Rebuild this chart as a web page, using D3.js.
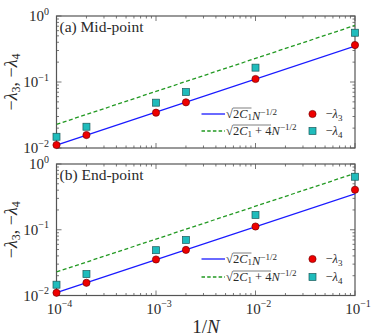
<!DOCTYPE html>
<html>
<head>
<meta charset="utf-8">
<script src="https://cdn.jsdelivr.net/npm/d3@7"></script>
<style>
  body { margin: 0; background: #fff; }
  svg { display: block; }
  text { font-family: "Liberation Serif", "DejaVu Serif", serif; fill: #2a2a2a; }
</style>
</head>
<body>
<svg id="chart" width="374" height="336"></svg>
<script>
// 1/N values of the simulations
var invN = [1e-4, 2e-4, 1e-3, 2e-3, 1e-2, 1e-1];

// (a) mid-point
var midLam3 = [0.0111, 0.0157, 0.0343, 0.0492, 0.111, 0.363];
var midLam4 = [0.0148, 0.0210, 0.0486, 0.0705, 0.165, 0.558];
// (b) end-point
var endLam3 = [0.0110, 0.0156, 0.0353, 0.0494, 0.112, 0.406];
var endLam4 = [0.0146, 0.0212, 0.0489, 0.0700, 0.168, 0.640];

// fitted lines, read at the ends of the x range
var fitX = [1e-4, 1e-1];
var fitSqrt2C1 = [0.0111, 0.351];
var fitSqrt2C1p4 = [0.0228, 0.720];

var xTickVals = [1e-4, 1e-3, 1e-2, 1e-1];
var xTickExp = ["\u22124", "\u22123", "\u22122", "\u22121"];
var yTickVals = [1e-2, 1e-1, 1];
var yTickExp = ["\u22122", "\u22121", "0"];

var panels = [
  {label: "(a) Mid-point", l3: midLam3, l4: midLam4, top: 16, bottom: 148, legY: [114, 131]},
  {label: "(b) End-point", l3: endLam3, l4: endLam4, top: 164, bottom: 295.5, legY: [259, 277]}
];

var svg = d3.select("#chart");
var left = 56.5, right = 355;

var x = d3.scaleLog().domain([1e-4, 1e-1]).range([left, right]);
var frameClr = "#555";

panels.forEach(function(p, pi) {
  var y = d3.scaleLog().domain([1e-2, 1]).range([p.bottom, p.top]);
  var g = svg.append("g");

  // ticks, all pointing inward
  var xt = x.ticks();
  var yt = y.ticks();
  function isMajor(v) { return Math.abs(Math.log10(v) - Math.round(Math.log10(v))) < 1e-6; }

  xt.forEach(function(v) {
    var len = isMajor(v) ? 5 : 2.5;
    g.append("line").attr("x1", x(v)).attr("x2", x(v)).attr("y1", p.bottom).attr("y2", p.bottom - len)
      .attr("stroke", frameClr).attr("stroke-width", 0.8);
    g.append("line").attr("x1", x(v)).attr("x2", x(v)).attr("y1", p.top).attr("y2", p.top + len)
      .attr("stroke", frameClr).attr("stroke-width", 0.8);
  });
  yt.forEach(function(v) {
    var len = isMajor(v) ? 5 : 2.5;
    g.append("line").attr("y1", y(v)).attr("y2", y(v)).attr("x1", left).attr("x2", left + len)
      .attr("stroke", frameClr).attr("stroke-width", 0.8);
    g.append("line").attr("y1", y(v)).attr("y2", y(v)).attr("x1", right).attr("x2", right - len)
      .attr("stroke", frameClr).attr("stroke-width", 0.8);
  });

  g.append("rect").attr("x", left).attr("y", p.top).attr("width", right - left).attr("height", p.bottom - p.top)
    .attr("fill", "none").attr("stroke", frameClr).attr("stroke-width", 1.2);

  // y tick labels
  yTickVals.forEach(function(v, i) {
    var t = g.append("text").attr("x", 49).attr("y", y(v) + 5).attr("text-anchor", "end")
      .style("font-size", "15px");
    t.append("tspan").text("10");
    t.append("tspan").attr("dy", -6.5).style("font-size", "10px").text(yTickExp[i]);
  });

  // x tick labels only on the lower panel
  if (pi === 1) {
    xTickVals.forEach(function(v, i) {
      var t = g.append("text").attr("x", x(v) + 3).attr("y", 313.5).attr("text-anchor", "middle")
        .style("font-size", "15px");
      t.append("tspan").text("10");
      t.append("tspan").attr("dy", -6.5).style("font-size", "10px").text(xTickExp[i]);
    });
    var xl = g.append("text").attr("x", 206).attr("y", 333).attr("text-anchor", "middle")
      .style("font-size", "19px");
    xl.append("tspan").text("1/");
    xl.append("tspan").style("font-style", "italic").text("N");
  }

  // y label
  var yl = g.append("text")
    .attr("transform", "translate(17," + ((p.top + p.bottom) / 2) + ") rotate(-90)")
    .attr("text-anchor", "middle").style("font-size", "18px");
  yl.append("tspan").text("\u2212");
  yl.append("tspan").style("font-style", "italic").text("\u03bb");
  yl.append("tspan").attr("dy", 3).style("font-size", "12px").text("3");
  yl.append("tspan").attr("dy", -3).text(", \u2212");
  yl.append("tspan").style("font-style", "italic").text("\u03bb");
  yl.append("tspan").attr("dy", 3).style("font-size", "12px").text("4");

  // panel label
  g.append("text").attr("x", 59.5).attr("y", p.top + 15.5).style("font-size", "15.5px").text(p.label);

  // clip
  var clipId = "clip" + pi;
  svg.append("clipPath").attr("id", clipId).append("rect")
    .attr("x", left).attr("y", p.top).attr("width", right - left).attr("height", p.bottom - p.top);
  var plot = g.append("g").attr("clip-path", "url(#" + clipId + ")");

  var line = d3.line().x(function(d) { return x(d[0]); }).y(function(d) { return y(d[1]); });
  plot.append("path").datum(d3.zip(fitX, fitSqrt2C1)).attr("d", line)
    .attr("fill", "none").attr("stroke", "#1a1aff").attr("stroke-width", 1.3);
  plot.append("path").datum(d3.zip(fitX, fitSqrt2C1p4)).attr("d", line)
    .attr("fill", "none").attr("stroke", "#229922").attr("stroke-width", 1.3).attr("stroke-dasharray", "4,2.5");

  var pts4 = d3.zip(invN, p.l4);
  var pts3 = d3.zip(invN, p.l3);
  var s = 7;
  g.selectAll(null).data(pts4).enter().append("rect")
    .attr("x", function(d) { return x(d[0]) - s / 2; })
    .attr("y", function(d) { return y(d[1]) - s / 2; })
    .attr("width", s).attr("height", s)
    .attr("fill", "#1fbcbc").attr("stroke", "#1a5a5a").attr("stroke-width", 0.7);
  g.selectAll(null).data(pts3).enter().append("circle")
    .attr("cx", function(d) { return x(d[0]); })
    .attr("cy", function(d) { return y(d[1]); })
    .attr("r", 3.6)
    .attr("fill", "#ee0000").attr("stroke", "#7a0000").attr("stroke-width", 0.7);

  // legend
  var ly = p.legY;
  g.append("line").attr("x1", 201.5).attr("x2", 225).attr("y1", ly[0]).attr("y2", ly[0])
    .attr("stroke", "#1a1aff").attr("stroke-width", 1.3);
  g.append("line").attr("x1", 201.5).attr("x2", 225).attr("y1", ly[1]).attr("y2", ly[1])
    .attr("stroke", "#229922").attr("stroke-width", 1.3).attr("stroke-dasharray", "3.5,2.2");

  function sqrtLabel(yy, inner) {
    var t = g.append("text").attr("x", 226).attr("y", yy + 4).style("font-size", "12.5px");
    t.append("tspan").text("\u221a");
    t.append("tspan").text("2");
    t.append("tspan").style("font-style", "italic").text("C");
    t.append("tspan").attr("dy", 2).style("font-size", "9px").text("1");
    t.append("tspan").attr("dy", -2).text(inner);
    t.append("tspan").style("font-style", "italic").text("N");
    t.append("tspan").attr("dy", -5).style("font-size", "9px").text("\u22121/2");
    // overline of the square root
    var node = t.node();
    var x0 = node.getStartPositionOfChar(1).x;
    var nIdx = node.textContent.indexOf("N");
    var x1 = node.getStartPositionOfChar(nIdx).x;
    g.append("line").attr("x1", x0).attr("x2", x1 - 0.5).attr("y1", yy - 6).attr("y2", yy - 6)
      .attr("stroke", "#2a2a2a").attr("stroke-width", 0.6);
  }
  sqrtLabel(ly[0], "");
  sqrtLabel(ly[1], " + 4");

  g.append("circle").attr("cx", 312.5).attr("cy", ly[0]).attr("r", 3.6)
    .attr("fill", "#ee0000").attr("stroke", "#7a0000").attr("stroke-width", 0.7);
  g.append("rect").attr("x", 312.5 - s / 2).attr("y", ly[1] - s / 2).attr("width", s).attr("height", s)
    .attr("fill", "#1fbcbc").attr("stroke", "#1a5a5a").attr("stroke-width", 0.7);

  [["3", ly[0]], ["4", ly[1]]].forEach(function(d) {
    var t = g.append("text").attr("x", 325.5).attr("y", d[1] + 4).style("font-size", "12.5px");
    t.append("tspan").text("\u2212");
    t.append("tspan").style("font-style", "italic").text("\u03bb");
    t.append("tspan").attr("dy", 2.5).style("font-size", "9px").text(d[0]);
  });
});
</script>
</body>
</html>
